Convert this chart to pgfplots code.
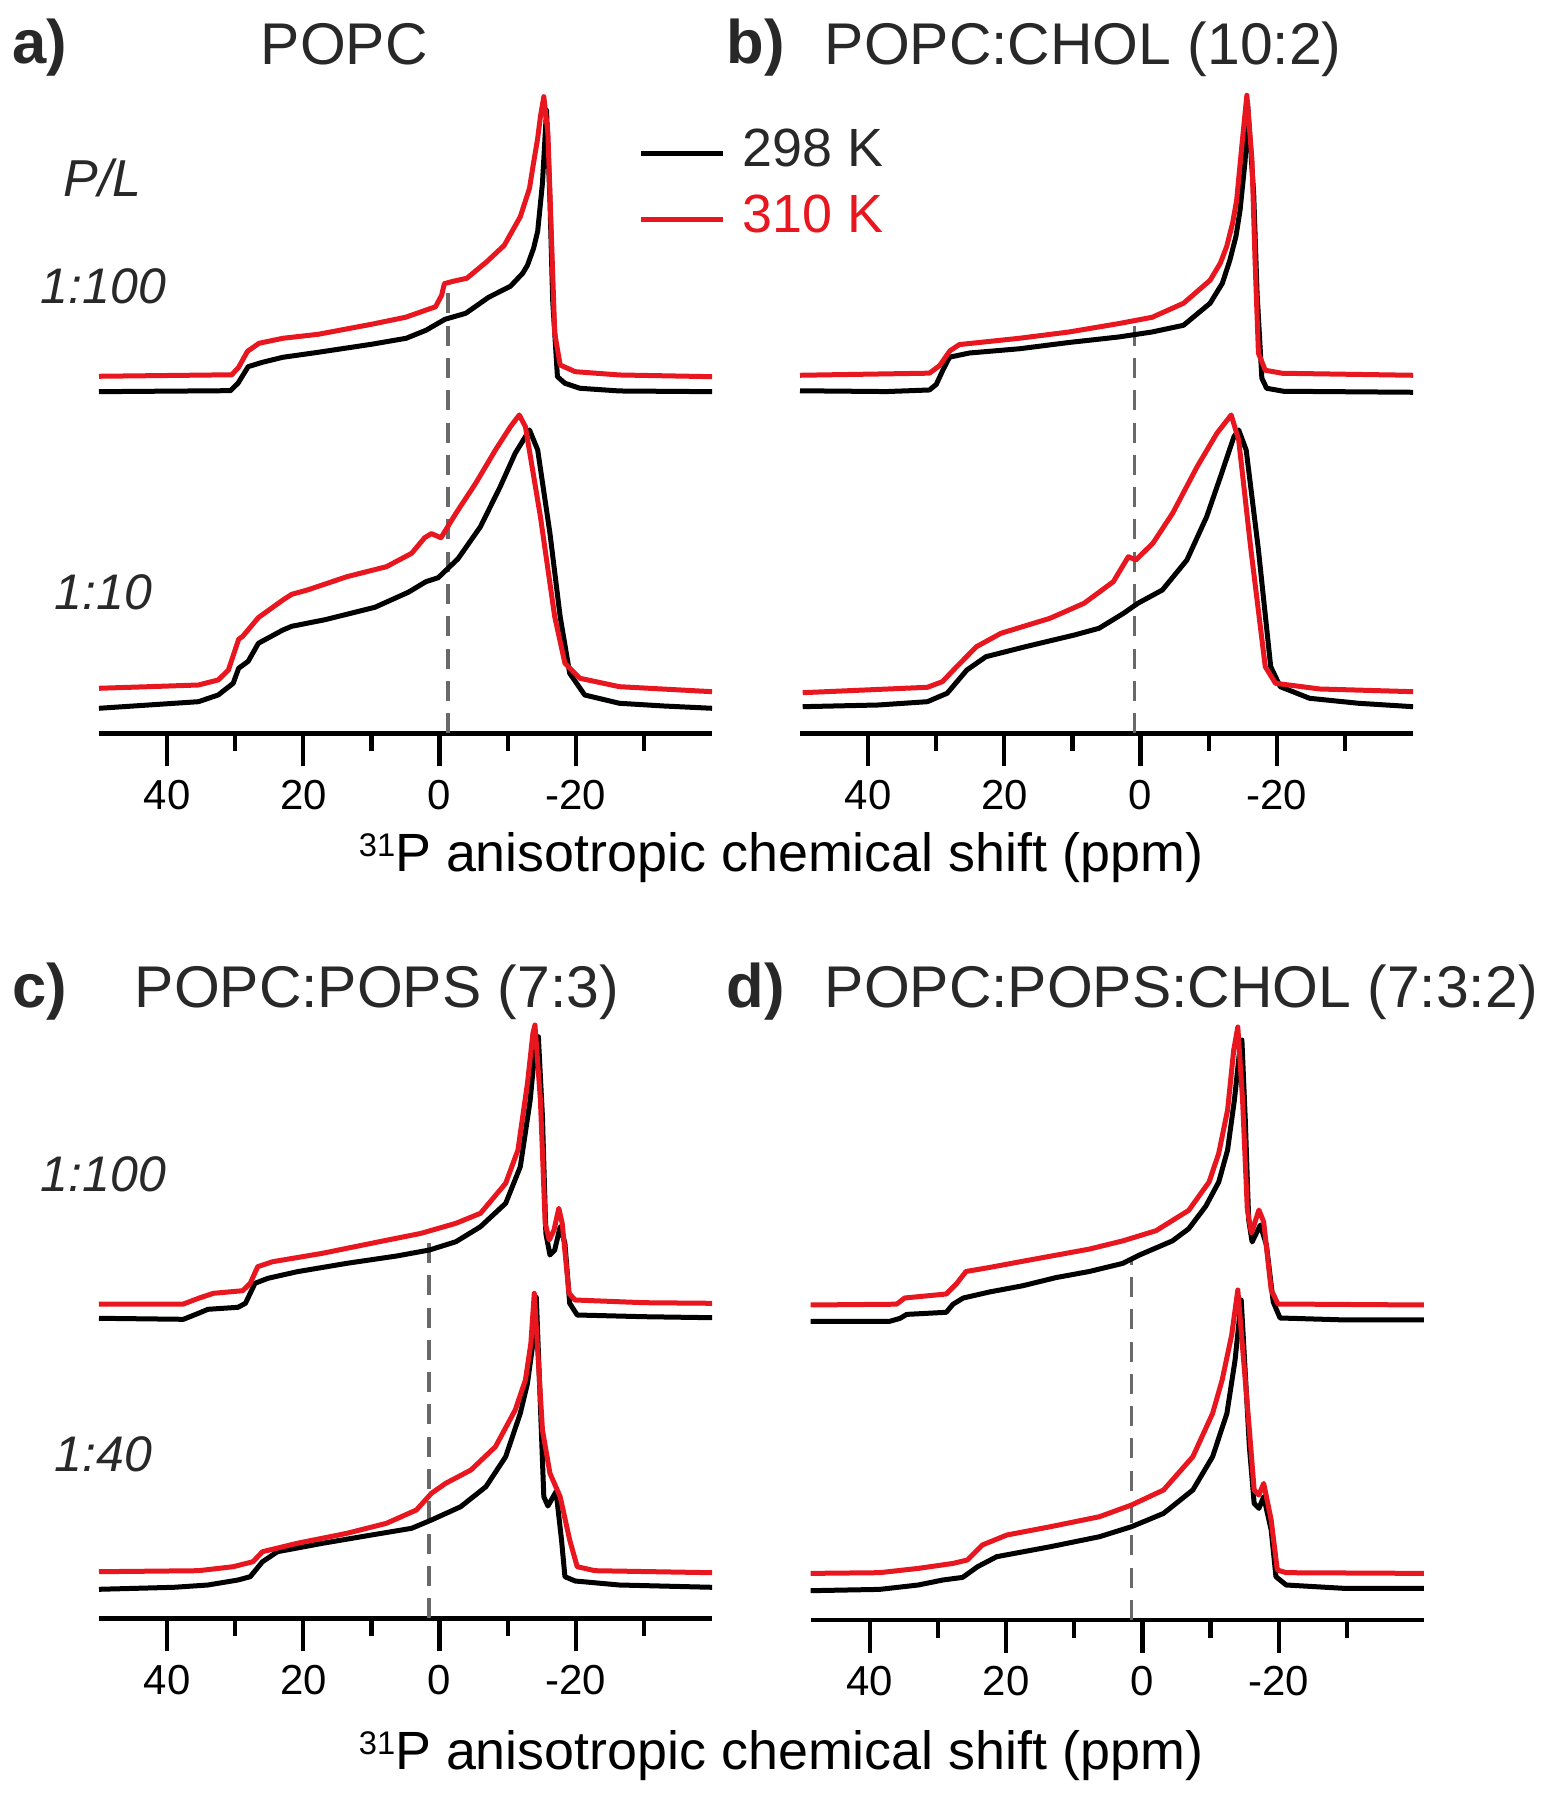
\documentclass[border=0pt]{standalone}
\usepackage{pgfplots}
\pgfplotsset{compat=1.18}
\usepackage{fontspec}
\setmainfont{Liberation Sans}
\definecolor{myred}{RGB}{232,22,30}
\definecolor{txt}{RGB}{40,40,40}
\definecolor{dsh}{RGB}{105,105,105}
\pgfplotsset{
  spec/.style={
    scale only axis, width=159.4pt,
    x dir=reverse, ymin=0,
    axis x line*=bottom, axis y line=none,
    xtick={-20,0,20,40}, xticklabels={-20,0,20,40},
    minor xtick={-30,-10,10,30},
    tick align=outside,
    major tick length=8.6pt, minor tick length=4.7pt,
    every tick/.style={black, line width=1.1pt},
    axis line style={black, line width=1.2pt},
    xticklabel style={font=\fontsize{10.9}{12}\selectfont, text=black},
    clip=false, anchor=south west,
  },
  blk/.style={black, line width=1.3pt, line join=round, forget plot},
  rd/.style={myred, line width=1.3pt, line join=round, forget plot},
  dl/.style={dsh, line width=1.0pt, dash pattern=on 5.2pt off 3.2pt, forget plot},
}
\newcommand\supnum[1]{{\fontsize{8.5}{9}\selectfont\raisebox{3.9pt}{#1}}}
\begin{document}
\begin{tikzpicture}
\useasboundingbox (0,0) rectangle (403.78pt,468pt);
% ---------------- panel a
\begin{axis}[spec, at={(25.74pt,277.34pt)}, xmin=-40, xmax=50, ymax=733, height=190.58pt,
  legend style={draw=none, fill=none, at={(axis description cs:0.879,0.826)}, anchor=north west,
    inner sep=0pt, nodes={inner sep=0pt}, column sep=4.5pt, row sep=6pt,
    font=\fontsize{14}{16}\selectfont},
  legend cell align=left,
  legend image code/.code={\draw[#1] (0pt,-0.8pt) -- (21.2pt,-0.8pt);}]
\addlegendimage{black, line width=1.3pt}
\addlegendimage{myred, line width=1.3pt}
\addlegendentry[text=txt]{298 K}
\addlegendentry[text=myred]{310 K}
\addplot[dl] coordinates {(-1.2,0) (-1.2,445)};
\addplot[blk] coordinates {(50,341.6) (30.7,342.6) (29.6,350) (28.1,366.6) (26,371) (23,376) (17.8,381) (10,389) (4.9,395) (2,403) (-0.8,414) (-3.85,420) (-7.2,436) (-10.4,447) (-12.2,460) (-12.9,468) (-13.8,485) (-14.4,502) (-15.1,550) (-15.7,623) (-16.2,533) (-16.6,433) (-17.3,356.6) (-18.4,350) (-20.6,345) (-26.4,342.3) (-40,341.6)};
\addplot[rd] coordinates {(50,357) (30.5,358.5) (29.5,366) (28.2,382) (26.5,390) (23,395) (17.8,399) (10,409) (5,416) (0.6,426.5) (-0.3,438) (-0.7,449.6) (-2,452) (-4,455) (-7,472) (-9.5,488) (-11.85,516.6) (-13.2,545) (-13.7,566.6) (-14.4,595) (-14.8,616.6) (-15.3,636.6) (-15.9,600) (-16.4,500) (-16.9,400) (-17.7,368.3) (-19.9,361.6) (-26.4,358.3) (-40,356.6)};
\addplot[blk] coordinates {(50,25) (42.7,28.3) (35.4,31.6) (32.5,38.3) (30.3,50) (29.5,65) (28.1,72) (26.6,90) (23,103.3) (21.7,107) (16.8,113.6) (9.5,126) (4.6,141) (2,151.6) (0.2,155.6) (-2.7,174.5) (-6,206.6) (-8.9,246.6) (-11.1,280) (-13.2,303.3) (-14.4,283.3) (-16.2,200) (-17.7,116.6) (-19.1,60) (-21.3,38.3) (-26.4,30) (-32.9,27.3) (-40,25)};
\addplot[rd] coordinates {(50,45) (42.7,46.6) (35.4,48.3) (32.5,53.3) (31,63.3) (29.5,94) (28.9,97) (26.6,115.7) (23,133.3) (21.7,139) (19.4,143.3) (13.6,156.6) (7.8,166.6) (4.1,180) (2.2,195.5) (1.2,199.7) (-0.2,195.5) (-2.4,220) (-5.3,250) (-8.2,283.3) (-10.4,306.6) (-11.7,318.3) (-12.6,306.6) (-14.8,216.6) (-16.9,116.6) (-18.4,70) (-20.6,55) (-26.4,46.6) (-40,41.6)};
\end{axis}
% ---------------- panel b
\begin{axis}[spec, at={(208pt,277.34pt)}, xmin=-40, xmax=50, ymax=733, height=190.58pt]
\addplot[dl] coordinates {(0.9,0) (0.9,410)};
\addplot[blk] coordinates {(50,342.5) (37.3,341.7) (31,343.3) (30,348.8) (29,363.5) (28.05,376.1) (25.1,380.3) (17.8,384.5) (10.5,390.8) (3.2,396.3) (-1.7,401.3) (-6.3,408) (-10.2,430) (-12,450) (-13.1,473) (-14,497) (-14.6,523) (-15.35,573) (-15.7,630) (-16.6,540) (-17.1,440) (-17.8,355) (-18.5,345) (-21,342) (-40,341)};
\addplot[rd] coordinates {(50,358) (31,360.1) (29.5,367.7) (28,382.4) (26.6,388.7) (17.8,395) (10.5,401.3) (3.2,409.7) (-1.7,416) (-6.3,430) (-10.2,453) (-11.7,470) (-12.65,487) (-13.5,510) (-14.1,533) (-14.9,590) (-15.6,638) (-16.35,573) (-16.8,473) (-17.3,380) (-18.3,363) (-20.8,360) (-40,358)};
\addplot[blk] coordinates {(49.6,26.6) (38.5,28.3) (31.3,31.6) (28.4,40) (25.5,63.3) (22.7,76.6) (16.9,86.6) (9.7,98.3) (6.1,105) (2.5,120) (0.4,130) (-3.2,143.3) (-6.8,173.3) (-9.7,216.6) (-11.9,260) (-13.7,296.6) (-14.4,303.3) (-15.5,283.3) (-17.3,183.3) (-19.1,66.6) (-20.5,46.6) (-24.8,35) (-32,30) (-40,26.6)};
\addplot[rd] coordinates {(49.6,40.6) (31.3,46) (29.1,51.6) (27,66.6) (24.1,86.6) (20.5,100) (13.3,115) (8.3,130) (4,151.6) (1.8,176.6) (0.7,173.3) (-1.8,190) (-4.7,220) (-8.3,266.6) (-11.2,300) (-13.3,318.3) (-14.4,293.3) (-16.2,183.3) (-18.3,66.6) (-19.8,50) (-26.3,44.3) (-40,41.6)};
\end{axis}
% ---------------- panel c
\begin{axis}[spec, at={(25.74pt,47.24pt)}, xmin=-40, xmax=50, ymax=700, height=182pt]
\addplot[dl] coordinates {(1.5,0) (1.5,385)};
\addplot[blk] coordinates {(50,300) (37.6,299) (35.4,305) (34,309) (29.6,311) (28.5,315) (27.1,335) (25.2,340) (20.9,346.6) (13.6,355) (6.3,362.3) (1.5,368.3) (-2.4,376.6) (-6,391.6) (-9.7,415) (-11.85,451.6) (-13.3,518.3) (-14,568.3) (-14.5,581.6) (-15.1,501.6) (-15.6,385) (-16.2,363.3) (-16.9,368.3) (-17.7,391.6) (-18.4,375) (-19.1,315) (-20.2,303.3) (-30,301.6) (-40,300.6)};
\addplot[rd] coordinates {(50,314.3) (37.6,314.3) (35.4,320) (33.2,325) (28.9,327.6) (27.8,335) (26.7,351.6) (24.5,356.6) (17.2,365) (10,375) (2.7,385) (-2.4,395) (-6,405) (-9.7,435) (-11.5,468.3) (-12.9,535) (-13.7,585) (-14,593.3) (-14.8,518.3) (-15.5,395) (-16.1,378.3) (-16.8,388.3) (-17.5,410) (-18,395) (-19,325) (-19.9,318.3) (-30,315.6) (-40,315)};
\addplot[blk] coordinates {(50,29) (39,31) (34,33.3) (29.6,38.3) (27.8,41.6) (26,56.6) (23.8,66.6) (17.2,75) (10,83.3) (4.1,90) (1.2,98.3) (-3.1,111.6) (-6.8,131.6) (-9.7,161.6) (-11.85,205) (-12.9,235) (-13.7,275) (-14.2,321) (-15.3,121.6) (-15.9,112.3) (-17.1,126.6) (-17.9,78.3) (-18.4,41.6) (-19.9,37.3) (-26.4,33.3) (-40,31)};
\addplot[rd] coordinates {(50,46.6) (35.4,47.6) (30.3,51.6) (27.4,56.6) (26,66.6) (20.9,75) (13.6,85) (7.8,95) (3.4,108.3) (1.2,125) (-0.9,135) (-4.6,148.3) (-8.2,171.6) (-11.1,208.3) (-12.6,238.3) (-13.4,275) (-13.9,325) (-15.1,188.3) (-16.2,145) (-17.7,121.6) (-19.1,78.3) (-20.2,51.6) (-22.8,47.6) (-40,45.6)};
\end{axis}
% ---------------- panel d
\begin{axis}[spec, at={(210.78pt,46.8pt)}, xmin=-41.3, xmax=48.7, ymax=700, height=182pt]
\addplot[dl] coordinates {(1.6,0) (1.6,363)};
\addplot[blk] coordinates {(48.7,298.7) (37.1,298.7) (35.6,301.6) (34.6,305.6) (28.8,307.7) (27.8,315.8) (26.3,322) (22.4,328.1) (17.6,334.2) (12.7,342.4) (7.8,348.5) (2.9,356.6) (0.5,364.8) (-4.4,379.1) (-6.8,391.3) (-9.3,413.8) (-11.2,438) (-12.5,470) (-13.5,520) (-14.2,565) (-14.6,580) (-15.1,500) (-15.6,400) (-16.1,378) (-17.3,395) (-18.2,375) (-19.2,318) (-20.2,302) (-30,300) (-41.3,300)};
\addplot[rd] coordinates {(48.7,315) (36.1,315.8) (34.9,322) (28.8,326) (27.3,336.2) (25.9,348.5) (22.4,352.6) (17.6,358.7) (12.7,364.8) (7.8,370.9) (2.9,379.1) (-2,389.3) (-6.8,409.7) (-9.8,438.2) (-11.2,466.8) (-12.5,510) (-13.4,570) (-14,593) (-14.7,520) (-15.4,410) (-16,387) (-17.1,410) (-17.8,398) (-18.9,330) (-19.9,316) (-41.3,315)};
\addplot[blk] coordinates {(48.7,29.3) (38.6,30.6) (32.9,35) (29.3,40) (26.4,42.6) (24.2,53.3) (21.4,63.3) (13.5,73.3) (6.3,83.3) (1.6,93.3) (-3.1,106.6) (-7.4,130) (-10.3,163.3) (-12.4,206.6) (-13.6,260) (-14.5,320) (-15.7,173) (-16.4,116.6) (-17.1,111.6) (-17.8,123.3) (-18.9,90) (-19.6,43.3) (-21.1,35) (-29.7,31.6) (-41.3,31.6)};
\addplot[rd] coordinates {(48.7,46.6) (38.6,47.3) (32.9,51.6) (27.8,56.6) (25.7,60) (23.5,75) (19.9,85) (13.5,93.3) (6.3,103.3) (1.6,115) (-3.1,130) (-7.4,163.3) (-10.3,206.6) (-11.7,240) (-13.1,285) (-14,330) (-15.7,190) (-16.4,130) (-17.1,125) (-17.8,136.6) (-18.9,100) (-19.8,50) (-21.1,47.3) (-41.3,46.6)};
\end{axis}
% ---------------- texts
\node[anchor=base west, inner sep=0pt, font=\fontsize{16}{18}\selectfont\bfseries, text=txt] at (3.12pt,451.36pt) {a)};
\node[anchor=base west, inner sep=0pt, font=\fontsize{15.3}{18}\selectfont, text=txt] at (67.6pt,451.1pt) {POPC};
\node[anchor=base west, inner sep=0pt, font=\fontsize{16}{18}\selectfont\bfseries, text=txt] at (188.76pt,451.36pt) {b)};
\node[anchor=base west, inner sep=0pt, font=\fontsize{15.3}{18}\selectfont, text=txt] at (214.24pt,451.1pt) {POPC:CHOL (10:2)};
\node[anchor=base west, inner sep=0pt, font=\fontsize{16}{18}\selectfont\bfseries, text=txt] at (3.12pt,205.92pt) {c)};
\node[anchor=base west, inner sep=0pt, font=\fontsize{15.3}{18}\selectfont, text=txt] at (34.84pt,205.92pt) {POPC:POPS (7:3)};
\node[anchor=base west, inner sep=0pt, font=\fontsize{16}{18}\selectfont\bfseries, text=txt] at (188.76pt,205.92pt) {d)};
\node[anchor=base west, inner sep=0pt, font=\fontsize{15.3}{18}\selectfont, text=txt] at (214.24pt,205.92pt) {POPC:POPS:CHOL (7:3:2)};
\node[anchor=base west, inner sep=0pt, font=\fontsize{13.5}{16}\selectfont\itshape, text=txt] at (16.38pt,416.78pt) {P/L};
\node[anchor=base west, inner sep=0pt, font=\fontsize{13}{16}\selectfont\itshape, text=txt] at (10.4pt,388.96pt) {1:100};
\node[anchor=base west, inner sep=0pt, font=\fontsize{13}{16}\selectfont\itshape, text=txt] at (14.04pt,309.4pt) {1:10};
\node[anchor=base west, inner sep=0pt, font=\fontsize{13}{16}\selectfont\itshape, text=txt] at (10.4pt,158.08pt) {1:100};
\node[anchor=base west, inner sep=0pt, font=\fontsize{13}{16}\selectfont\itshape, text=txt] at (14.04pt,85.28pt) {1:40};
\node[anchor=base, inner sep=0pt, font=\fontsize{14}{16}\selectfont, text=black] at (203.06pt,241.28pt) {\supnum{31}P anisotropic chemical shift (ppm)};
\node[anchor=base, inner sep=0pt, font=\fontsize{14}{16}\selectfont, text=black] at (203.06pt,7.8pt) {\supnum{31}P anisotropic chemical shift (ppm)};
\end{tikzpicture}
\end{document}
